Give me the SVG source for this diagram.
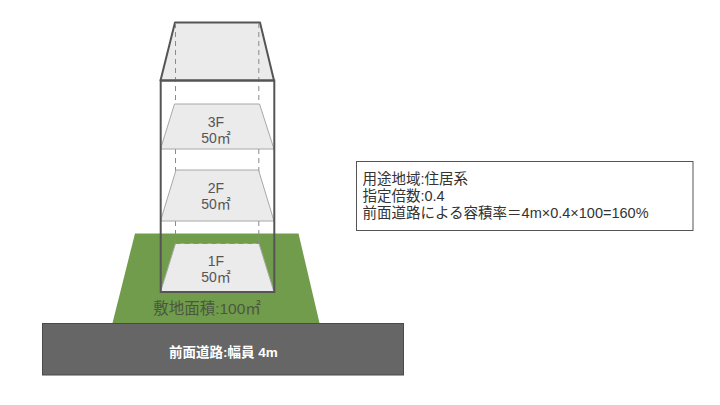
<svg xmlns="http://www.w3.org/2000/svg" width="720" height="405" viewBox="0 0 720 405">
<style>
.t{font-family:"Liberation Sans","Noto Sans CJK JP",sans-serif;}
.fl{fill:#ebebeb;stroke:#a8a8a8;stroke-width:1;}
.fll{font-size:14px;fill:#555;text-anchor:middle;}
.dash{fill:none;stroke:#8a8a8a;stroke-width:1;stroke-dasharray:5,4;}
.info{font-size:14.5px;fill:#333;}
</style>
<rect width="720" height="405" fill="#fff"/>
<g id="road">
<rect x="42.5" y="323.5" width="361" height="51.5" fill="#666" stroke="#4a4a4a" stroke-width="1"/>
<text class="t" x="223.5" y="357" font-size="13.5" font-weight="bold" fill="#fff" text-anchor="middle">前面道路:幅員 4m</text>
</g>
<g id="lot">
<polygon points="135,233.5 298.5,233.5 319.5,323 112.5,323" fill="#709c4b"/>
<text class="t" x="207" y="314" font-size="15.5" fill="#4b5840" text-anchor="middle">敷地面積:100㎡</text>
</g>
<g id="roof">
<polygon points="175,22.5 260,22.5 274,80.5 160.5,80.5" fill="#ebebeb" stroke="#555" stroke-width="2" stroke-linejoin="round"/>
</g>
<g id="hidden">
<line class="dash" x1="175.5" y1="23" x2="175.5" y2="243.5"/>
<line class="dash" x1="258.8" y1="23" x2="258.8" y2="243.5"/>
</g>
<g id="floor3">
<polygon class="fl" points="174.5,104 259.5,104 274,149 160.5,149"/>
<text class="t fll" x="216" y="126.5">3F</text>
<text class="t fll" x="216" y="142.5">50㎡</text>
</g>
<g id="floor2">
<polygon class="fl" points="176,170 258.5,170 274,221 160.5,221"/>
<text class="t fll" x="216" y="192.5">2F</text>
<text class="t fll" x="216" y="209">50㎡</text>
</g>
<g id="floor1">
<polygon class="fl" points="175.5,243.5 259,243.5 274,292 160.5,292"/>
<line class="dash" x1="175.5" y1="243.5" x2="258.8" y2="243.5"/>
<text class="t fll" x="216" y="265.5">1F</text>
<text class="t fll" x="216" y="281.5">50㎡</text>
</g>
<g id="building">
<rect x="160.7" y="80.5" width="113.6" height="211.5" fill="none" stroke="#555" stroke-width="2"/>
</g>
<g id="info">
<rect x="356.5" y="161.5" width="336.5" height="69" fill="#fff" stroke="#555" stroke-width="1"/>
<text class="t info" x="362.5" y="183.5">用途地域:住居系</text>
<text class="t info" x="362.5" y="200.5">指定倍数:0.4</text>
<text class="t info" x="362.5" y="218">前面道路による容積率＝4m×0.4×100=160%</text>
</g>
<g id="connectors"></g>
</svg>
